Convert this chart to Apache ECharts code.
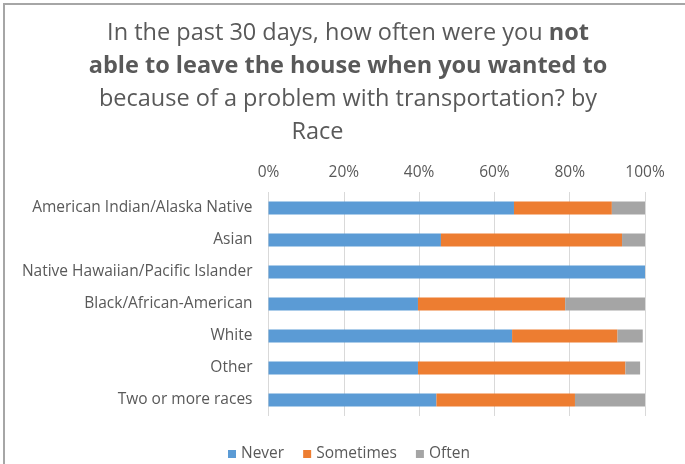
<!DOCTYPE html>
<html>
<head>
<meta charset="utf-8">
<script src="https://cdn.jsdelivr.net/npm/echarts@6/dist/echarts.min.js"></script>
<style>
  html, body { margin: 0; padding: 0; background: #fff; }
  #main { width: 685px; height: 464px; }
</style>
</head>
<body>
<div id="main"></div>
<script>
// data (percent of each race group)
const races = [
  "American Indian/Alaska Native",
  "Asian",
  "Native Hawaiian/Pacific Islander",
  "Black/African-American",
  "White",
  "Other",
  "Two or more races"
];
const never = [65.2, 45.8, 100, 39.7, 64.7, 39.7, 44.6];
const sometimes = [26.0, 48.1, 0, 39.1, 28.0, 55.1, 36.8];
const often = [8.8, 6.1, 0, 21.2, 6.7, 3.9, 18.6];
const ticks = [0, 20, 40, 60, 80, 100];

const seriesNames = ["Never", "Sometimes", "Often"];
const seriesColors = ["#5b9bd5", "#ed7d31", "#a5a5a5"];
const FONT = "Open Sans";
const GREY = "#595959";

const chart = echarts.init(document.getElementById("main"));

// Excel lists categories top to bottom, ECharts goes bottom up
const cats = races.slice().reverse();
const rev = arr => arr.slice().reverse();

const option = {
  animation: false,
  graphic: [{
    type: "rect",
    shape: { x: 4, y: 4, width: 900, height: 700 },
    style: { fill: null, stroke: "#a6a6a6", lineWidth: 2 },
    silent: true
  }],
  title: {
    left: 343,
    top: 12,
    textAlign: "center",
    text: "{n|In the past 30 days, how often were you }{b|not}\n" +
      "{b|able to leave the house when you wanted to}\n" +
      "{n|because of a problem with transportation? by}\n" +
      "{n|Race\u00a0\u00a0\u00a0\u00a0\u00a0\u00a0\u00a0\u00a0\u00a0\u00a0}",
    textStyle: {
      fontWeight: "normal",
      rich: {
        n: { fontFamily: FONT, fontSize: 23.5, color: GREY, fontWeight: "normal", lineHeight: 33 },
        b: { fontFamily: FONT, fontSize: 23.5, color: GREY, fontWeight: "bold", lineHeight: 33 }
      }
    }
  },
  legend: {
    data: seriesNames,
    top: 441,
    left: 223,
    itemWidth: 8,
    itemHeight: 8,
    itemGap: 19,
    icon: "rect",
    textStyle: { fontFamily: FONT, fontSize: 15.5, color: GREY }
  },
  grid: { left: 268.5, right: 40, top: 192, bottom: 48, containLabel: false },
  xAxis: {
    type: "value",
    position: "top",
    min: ticks[0],
    max: ticks[ticks.length - 1],
    interval: 20,
    axisLine: { show: false },
    axisTick: { show: false },
    axisLabel: {
      formatter: "{value}%",
      fontFamily: FONT,
      fontSize: 15.5,
      color: GREY,
      margin: 11
    },
    splitLine: { lineStyle: { color: "#d9d9d9", width: 1 } }
  },
  yAxis: {
    type: "category",
    data: cats,
    axisLine: { show: false },
    axisTick: { show: false },
    axisLabel: { fontFamily: FONT, fontSize: 15.5, color: GREY, margin: 16 }
  },
  series: [never, sometimes, often].map((vals, i) => ({
    name: seriesNames[i],
    type: "bar",
    stack: "total",
    barWidth: 13,
    data: rev(vals),
    itemStyle: { color: seriesColors[i] }
  }))
};

chart.setOption(option);
</script>
</body>
</html>
